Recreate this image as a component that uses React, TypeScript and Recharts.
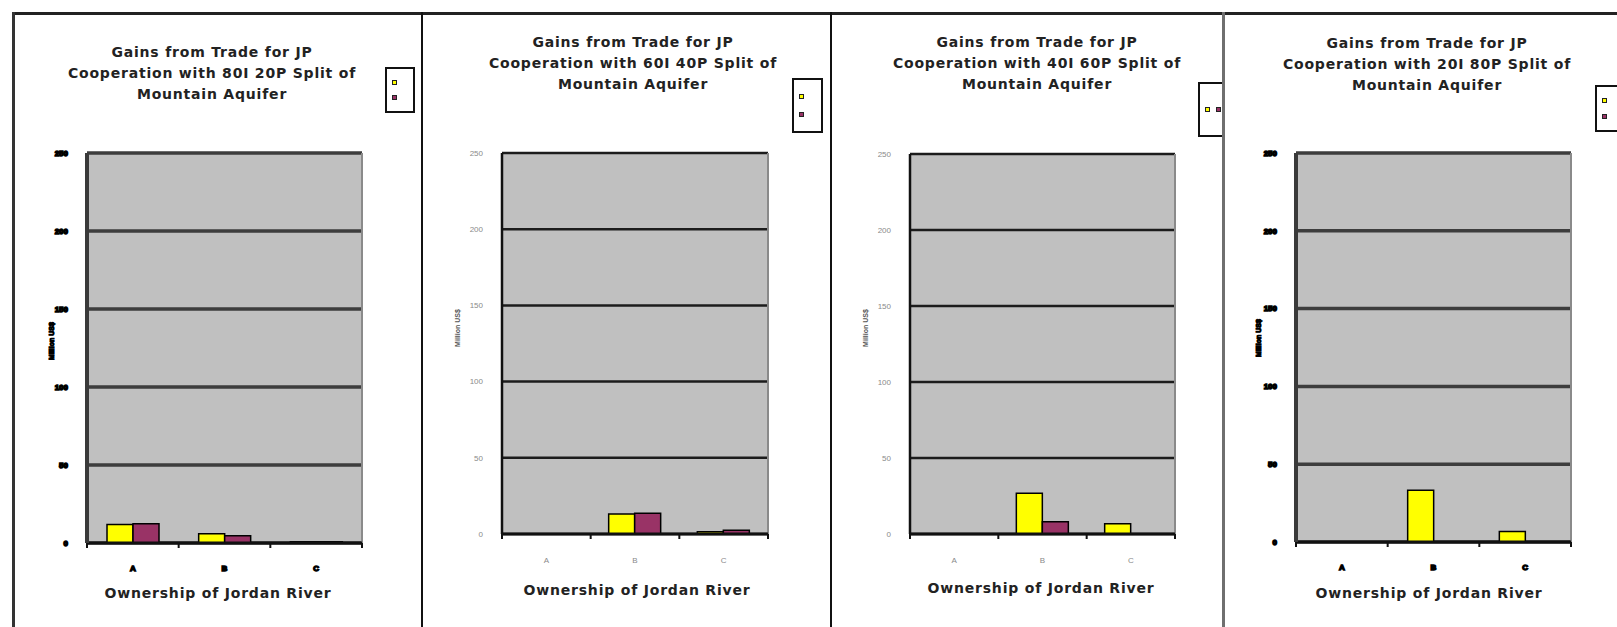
import { BarChart, Bar, XAxis, YAxis, CartesianGrid } from "recharts";

// Gains from trade (million US$) for each ownership case of the Jordan River
const categories = ["A", "B", "C"];
const yTicks = [0, 50, 100, 150, 200, 250];

const israel80 = [11.8, 6, 0.8];
const palestine80 = [12.4, 4.7, 0.8];
const israel60 = [0, 13.1, 1.5];
const palestine60 = [0, 13.6, 2.5];
const israel40 = [0, 26.8, 6.8];
const palestine40 = [0, 8, 0];
const israel20 = [0, 33.3, 6.8];
const palestine20 = [0, 0, 0];

const splits = ["80I 20P", "60I 40P", "40I 60P", "20I 80P"];

const YELLOW = "#ffff00";
const PLUM = "#993366";

type Panel = {
  split: string;
  israel: number[];
  palestine: number[];
  left: number;
  right: number;
  plot: { l: number; r: number; t: number; b: number };
  titleX: number;
  titleY: number;
  axisTitleX: number;
  axisTitleY: number;
  yTitleX: number;
  yTitleY: number;
  legend: { x: number; y: number; w: number; h: number; across: boolean };
  heavy: boolean;
};

const panels: Panel[] = [
  {
    split: splits[0], israel: israel80, palestine: palestine80,
    left: 15, right: 422, plot: { l: 87, r: 362, t: 153, b: 543 },
    titleX: 212, titleY: 52, axisTitleX: 218, axisTitleY: 593, yTitleX: 52, yTitleY: 341,
    legend: { x: 385, y: 67, w: 30, h: 46, across: false }, heavy: true,
  },
  {
    split: splits[1], israel: israel60, palestine: palestine60,
    left: 424, right: 831, plot: { l: 502, r: 768, t: 153, b: 534 },
    titleX: 633, titleY: 42, axisTitleX: 637, axisTitleY: 590, yTitleX: 458, yTitleY: 328,
    legend: { x: 792, y: 78, w: 31, h: 55, across: false }, heavy: false,
  },
  {
    split: splits[2], israel: israel40, palestine: palestine40,
    left: 833, right: 1223, plot: { l: 910, r: 1175, t: 154, b: 534 },
    titleX: 1037, titleY: 42, axisTitleX: 1041, axisTitleY: 588, yTitleX: 866, yTitleY: 328,
    legend: { x: 1198, y: 82, w: 25, h: 55, across: true }, heavy: false,
  },
  {
    split: splits[3], israel: israel20, palestine: palestine20,
    left: 1226, right: 1617, plot: { l: 1296, r: 1571, t: 153, b: 542 },
    titleX: 1427, titleY: 43, axisTitleX: 1429, axisTitleY: 593, yTitleX: 1259, yTitleY: 338,
    legend: { x: 1595, y: 85, w: 24, h: 47, across: false }, heavy: true,
  },
];

const CHART_TOP = 15;
const PAGE_H = 627;
const X_AXIS_H = 70;

function CategoryTick(props: any) {
  const { x, y, payload, index, band, heavy, last } = props;
  const edges = [x - band / 2];
  if (index === last) edges.push(x + band / 2);
  return (
    <g>
      {edges.map((ex) => (
        <line key={ex} x1={ex} x2={ex} y1={y} y2={y + 5} stroke="#111" strokeWidth={2} />
      ))}
      <text
        x={x}
        y={y + (heavy ? 28 : 29)}
        textAnchor="middle"
        fontFamily="Liberation Sans, Arial, sans-serif"
        fontSize={8}
        fontWeight={heavy ? 700 : 400}
        fill={heavy ? "#000" : "#8a8a8a"}
        stroke={heavy ? "#000" : "none"}
        strokeWidth={heavy ? 1.4 : 0}
      >
        {payload.value}
      </text>
    </g>
  );
}

function GainsChart({ p }: { p: Panel }) {
  const rows = categories.map((c, i) => ({
    cat: c,
    israel: p.israel[i],
    palestine: p.palestine[i],
  }));
  const width = p.right - p.left;
  const height = PAGE_H - CHART_TOP;
  const band = (p.plot.r - p.plot.l) / categories.length;
  const gridStroke = p.heavy ? "#3d3d3d" : "#1c1c1c";
  const gridWidth = p.heavy ? 3.5 : 2.5;

  return (
    <div style={{ position: "absolute", left: p.left, top: CHART_TOP }}>
      <BarChart
        width={width}
        height={height}
        data={rows}
        barSize={26}
        barGap={0}
        margin={{
          top: p.plot.t - CHART_TOP,
          left: 0,
          right: p.right - p.plot.r,
          bottom: PAGE_H - p.plot.b - X_AXIS_H,
        }}
      >
        <CartesianGrid
          vertical={false}
          fill="#c0c0c0"
          fillOpacity={1}
          stroke={gridStroke}
          strokeWidth={gridWidth}
        />
        {/* grey right edge of the plot area */}
        <CartesianGrid
          horizontal={false}
          stroke="#8a8a8a"
          strokeWidth={2}
          verticalCoordinatesGenerator={({ offset }: any) => [offset.left + offset.width]}
        />
        <XAxis
          dataKey="cat"
          height={X_AXIS_H}
          interval={0}
          tickLine={false}
          tickSize={0}
          tickMargin={0}
          axisLine={{ stroke: "#111", strokeWidth: 3 }}
          tick={<CategoryTick band={band} heavy={p.heavy} last={categories.length - 1} />}
        />
        <YAxis
          type="number"
          domain={[0, 250]}
          ticks={yTicks}
          interval={0}
          width={p.plot.l - p.left}
          tickLine={false}
          tickSize={0}
          tickMargin={19}
          axisLine={{ stroke: p.heavy ? "#3a3a3a" : "#111", strokeWidth: p.heavy ? 4 : 2.5 }}
          tick={{
            fontFamily: "Liberation Sans, Arial, sans-serif",
            fontSize: 8,
            fontWeight: p.heavy ? 700 : 400,
            fill: p.heavy ? "#000" : "#8a8a8a",
            stroke: p.heavy ? "#000" : "none",
            strokeWidth: p.heavy ? 1.4 : 0,
          }}
        />
        <Bar dataKey="israel" name="Israel" fill={YELLOW} stroke="#000" strokeWidth={1.5} isAnimationActive={false} />
        <Bar dataKey="palestine" name="Palestine" fill={PLUM} stroke="#000" strokeWidth={1.5} isAnimationActive={false} />
      </BarChart>
    </div>
  );
}

function Marker({ color }: { color: string }) {
  return (
    <div
      style={{
        width: 5,
        height: 5,
        background: color,
        border: "1px solid #222",
        boxSizing: "border-box",
      }}
    />
  );
}

function PanelText({ p }: { p: Panel }) {
  const lg = p.legend;
  return (
    <>
      <div
        style={{
          position: "absolute",
          left: p.titleX - 200,
          top: p.titleY - 10.5,
          width: 400,
          textAlign: "center",
          fontFamily: "DejaVu Sans, sans-serif",
          fontWeight: 700,
          fontSize: 14,
          letterSpacing: 0.8,
          lineHeight: "21px",
          color: "#222",
        }}
      >
        Gains from Trade for JP
        <br />
        Cooperation with {p.split} Split of
        <br />
        Mountain Aquifer
      </div>
      <div
        style={{
          position: "absolute",
          left: p.axisTitleX - 150,
          top: p.axisTitleY - 9,
          width: 300,
          textAlign: "center",
          fontFamily: "DejaVu Sans, sans-serif",
          fontWeight: 700,
          fontSize: 14,
          letterSpacing: 0.8,
          lineHeight: "18px",
          color: "#222",
        }}
      >
        Ownership of Jordan River
      </div>
      <div
        style={{
          position: "absolute",
          left: p.yTitleX - 40,
          top: p.yTitleY - 5,
          width: 80,
          height: 10,
          lineHeight: "10px",
          textAlign: "center",
          transform: "rotate(-90deg)",
          fontFamily: "Liberation Sans, Arial, sans-serif",
          fontSize: 7,
          fontWeight: 700,
          color: p.heavy ? "#000" : "#555",
          WebkitTextStroke: p.heavy ? "1px #000" : "0",
        }}
      >
        Million US$
      </div>
      <div
        style={{
          position: "absolute",
          left: lg.x,
          top: lg.y,
          width: lg.w,
          height: lg.h,
          border: "2px solid #111",
          borderRight: lg.across ? "none" : "2px solid #111",
          boxSizing: "border-box",
          background: "#fff",
          display: "flex",
          flexDirection: lg.across ? "row" : "column",
          justifyContent: lg.across ? "flex-start" : "space-evenly",
          alignItems: lg.across ? "center" : "flex-start",
          gap: lg.across ? 6 : 0,
          paddingLeft: 5,
        }}
      >
        <Marker color={YELLOW} />
        <Marker color={PLUM} />
      </div>
    </>
  );
}

export default function App() {
  return (
    <div
      style={{
        position: "absolute",
        left: 0,
        top: 0,
        width: 1617,
        height: PAGE_H,
        background: "#fff",
        overflow: "hidden",
      }}
    >
      {panels.map((p) => (
        <GainsChart key={p.split} p={p} />
      ))}
      {panels.map((p) => (
        <PanelText key={p.split} p={p} />
      ))}
      {/* page frame between the four charts */}
      <div style={{ position: "absolute", left: 13, top: 12, width: 1604, height: 3, background: "#222" }} />
      <div style={{ position: "absolute", left: 12, top: 12, width: 3, height: 615, background: "#333" }} />
      <div style={{ position: "absolute", left: 421, top: 12, width: 2, height: 615, background: "#111" }} />
      <div style={{ position: "absolute", left: 830, top: 12, width: 2, height: 615, background: "#111" }} />
      <div style={{ position: "absolute", left: 1222, top: 12, width: 3, height: 615, background: "#6f6f6f" }} />
    </div>
  );
}
